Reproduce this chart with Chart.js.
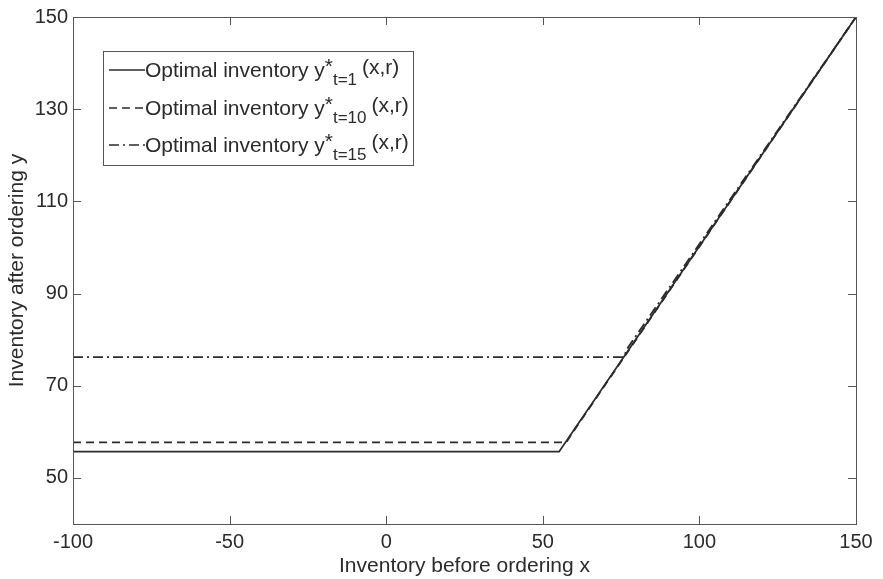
<!DOCTYPE html>
<html>
<head>
<meta charset="utf-8">
<script src="https://cdn.jsdelivr.net/npm/chart.js@4.4.1/dist/chart.umd.min.js"></script>
<style>
  html, body { margin: 0; padding: 0; background: #fff; }
  #wrap { width: 883px; height: 579px; position: relative; }
</style>
</head>
<body>
<div id="wrap"><canvas id="chart" width="883" height="579"></canvas></div>
<script>
const xTicks = [-100, -50, 0, 50, 100, 150];
const yTicks = [50, 70, 90, 110, 130, 150];

// policy curves: flat at the order-up-to level, then y = x
const t1X = [-100, 55.2, 150];
const t1Y = [55.7, 55.7, 150];
const t10X = [-100, 57.5, 59.3, 150];
const t10Y = [57.7, 57.7, 59.6, 150];
const t15X = [-100, 75.8, 77.2, 150];
const t15Y = [76.2, 76.2, 78.3, 150];

const seriesNames = ['t=1', 't=10', 't=15'];
const dashes = [[], [8, 5], [10, 4, 2, 4]];
const ink = '#2b2b2b';
const font = 'Arial, "Liberation Sans", sans-serif';

const toPoints = (xs, ys) => xs.map((x, i) => ({ x: x, y: ys[i] }));

// MATLAB-style box with inward ticks on all four sides
const boxPlugin = {
  id: 'box',
  afterDraw(chart) {
    const { ctx, chartArea: a, scales } = chart;
    ctx.save();
    ctx.strokeStyle = '#555';
    ctx.lineWidth = 1;
    ctx.strokeRect(a.left + 0.5, a.top + 0.5, a.right - a.left, a.bottom - a.top);
    ctx.beginPath();
    xTicks.forEach(v => {
      const px = Math.round(scales.x.getPixelForValue(v)) + 0.5;
      ctx.moveTo(px, a.bottom); ctx.lineTo(px, a.bottom - 8);
      ctx.moveTo(px, a.top); ctx.lineTo(px, a.top + 8);
    });
    yTicks.forEach(v => {
      const py = Math.round(scales.y.getPixelForValue(v)) + 0.5;
      ctx.moveTo(a.left, py); ctx.lineTo(a.left + 8, py);
      ctx.moveTo(a.right, py); ctx.lineTo(a.right - 8, py);
    });
    ctx.stroke();
    ctx.restore();
  }
};

// legend with sub/superscripts, drawn inside the plot like MATLAB does
const legendPlugin = {
  id: 'subLegend',
  afterDraw(chart) {
    const { ctx } = chart;
    const left = 103, top = 51, w = 310, h = 114;
    ctx.save();
    ctx.fillStyle = '#fff';
    ctx.fillRect(left, top, w, h);
    ctx.strokeStyle = '#555';
    ctx.lineWidth = 1;
    ctx.strokeRect(left + 0.5, top + 0.5, w, h);
    const rows = [70, 108, 145];
    rows.forEach((ry, i) => {
      ctx.setLineDash(dashes[i]);
      ctx.strokeStyle = ink;
      ctx.lineWidth = 1.6;
      ctx.beginPath();
      ctx.moveTo(109, ry); ctx.lineTo(145, ry);
      ctx.stroke();
      ctx.setLineDash([]);
      ctx.fillStyle = ink;
      ctx.textBaseline = 'alphabetic';
      ctx.font = '21px ' + font;
      let x = 145;
      const base = ry + 7;
      const main = 'Optimal inventory y';
      ctx.fillText(main, x, base);
      x += ctx.measureText(main).width;
      ctx.fillText('*', x, base - 4);
      x += ctx.measureText('*').width;
      ctx.font = '17px ' + font;
      ctx.fillText(seriesNames[i], x, base + 8);
      x += ctx.measureText(seriesNames[i]).width + 5;
      ctx.font = '21px ' + font;
      ctx.fillText('(x,r)', x, base - 3);
    });
    ctx.restore();
  }
};

new Chart(document.getElementById('chart'), {
  type: 'line',
  data: {
    datasets: [
      { label: seriesNames[0], data: toPoints(t1X, t1Y), borderDash: dashes[0] },
      { label: seriesNames[1], data: toPoints(t10X, t10Y), borderDash: dashes[1] },
      { label: seriesNames[2], data: toPoints(t15X, t15Y), borderDash: dashes[2] }
    ].map(d => Object.assign(d, {
      borderColor: ink,
      borderWidth: 1.8,
      pointRadius: 0,
      fill: false,
      tension: 0
    }))
  },
  options: {
    responsive: false,
    animation: false,
    layout: { padding: { left: 0, top: 11, right: 27, bottom: 0 } },
    plugins: { legend: { display: false }, tooltip: { enabled: false } },
    scales: {
      x: {
        type: 'linear',
        min: -100,
        max: 150,
        afterBuildTicks: s => { s.ticks = xTicks.map(v => ({ value: v })); },
        afterFit: s => { s.height = 55; },
        grid: { display: false, drawTicks: false },
        border: { display: false },
        ticks: { color: ink, font: { family: font, size: 20 }, padding: 6, maxRotation: 0 },
        title: {
          display: true,
          text: 'Inventory before ordering x',
          color: ink,
          font: { family: font, size: 21 },
          padding: { top: 0, bottom: 0 }
        }
      },
      y: {
        type: 'linear',
        min: 40,
        max: 150,
        afterBuildTicks: s => { s.ticks = yTicks.map(v => ({ value: v })); },
        afterFit: s => { s.width = 73; },
        grid: { display: false, drawTicks: false },
        border: { display: false },
        ticks: { color: ink, font: { family: font, size: 20 }, padding: 5 },
        title: {
          display: true,
          text: 'Inventory after ordering y',
          color: ink,
          font: { family: font, size: 21 },
          padding: { top: 5, bottom: 0 }
        }
      }
    }
  },
  plugins: [boxPlugin, legendPlugin]
});
</script>
</body>
</html>
